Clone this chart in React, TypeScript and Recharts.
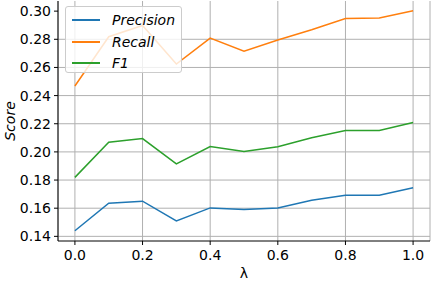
import { LineChart, Line, XAxis, YAxis, CartesianGrid } from "recharts";

const lambdas = [0, 0.1, 0.2, 0.3, 0.4, 0.5, 0.6, 0.7, 0.8, 0.9, 1.0];
const precision = [0.144, 0.1636, 0.165, 0.151, 0.1602, 0.159, 0.1602, 0.1657, 0.1692, 0.1692, 0.1745];
const recall = [0.2468, 0.2818, 0.2898, 0.2624, 0.2808, 0.2716, 0.2795, 0.2868, 0.2947, 0.2951, 0.3003];
const f1 = [0.1819, 0.2068, 0.2095, 0.1915, 0.2038, 0.2002, 0.2036, 0.2101, 0.2152, 0.2152, 0.2209];

const xTicks = [0, 0.2, 0.4, 0.6, 0.8, 1.0];
const yTicks = [0.14, 0.16, 0.18, 0.2, 0.22, 0.24, 0.26, 0.28, 0.3];
const gridValues = [0.14, 0.16, 0.18, 0.2, 0.22, 0.24, 0.26, 0.28];

const series = [
  { key: "precision", name: "Precision", color: "#1f77b4" },
  { key: "recall", name: "Recall", color: "#ff7f0e" },
  { key: "f1", name: "F1", color: "#2ca02c" },
];

const data = lambdas.map((l, i) => ({
  lambda: l,
  precision: precision[i],
  recall: recall[i],
  f1: f1[i],
}));

const FONT = "'DejaVu Sans', sans-serif";
const tickStyle = { fontSize: 14, fill: "#000", fontFamily: FONT };

export default function App() {
  return (
    <div style={{ position: "absolute", left: 0, top: 0, width: 432, height: 282, background: "#fff" }}>
      <LineChart width={432} height={282} data={data} margin={{ top: 1, right: 2, left: 0, bottom: 0 }}>
        <CartesianGrid stroke="#b0b0b0" strokeWidth={1} horizontalValues={gridValues} />
        <XAxis
          dataKey="lambda"
          type="number"
          domain={[-0.05, 1.05]}
          ticks={xTicks}
          tickFormatter={(v) => Number(v).toFixed(1)}
          height={41}
          tick={tickStyle}
          tickSize={4}
          tickMargin={5}
          stroke="#000"
          label={{ value: "λ", position: "insideBottom", offset: 4, style: { fontSize: 14, fill: "#000", fontFamily: FONT } }}
        />
        <XAxis xAxisId="top" orientation="top" dataKey="lambda" type="number" domain={[-0.05, 1.05]} height={0} tick={false} tickLine={false} stroke="#000" />
        <YAxis
          type="number"
          domain={[0.1367, 0.3072]}
          ticks={yTicks}
          tickFormatter={(v) => Number(v).toFixed(2)}
          width={58}
          tick={tickStyle}
          tickSize={4}
          tickMargin={3}
          stroke="#000"
          label={({ viewBox }: any) => (
            <text
              x={10}
              y={viewBox.y + viewBox.height / 2}
              transform={`rotate(-90, 10, ${viewBox.y + viewBox.height / 2})`}
              textAnchor="middle"
              dominantBaseline="central"
              style={{ fontSize: 14, fill: "#000", fontFamily: FONT, fontStyle: "italic" }}
            >
              Score
            </text>
          )}
        />
        <YAxis yAxisId="right" orientation="right" domain={[0.1367, 0.3072]} width={0} tick={false} tickLine={false} stroke="#000" />
        {series.map((s) => (
          <Line
            key={s.key}
            type="linear"
            dataKey={s.key}
            name={s.name}
            stroke={s.color}
            strokeWidth={1.5}
            dot={false}
            isAnimationActive={false}
          />
        ))}
      </LineChart>
      <div
        style={{
          position: "absolute",
          left: 65,
          top: 6,
          width: 115,
          height: 65,
          border: "1px solid #cccccc",
          borderRadius: 3,
          background: "rgba(255,255,255,0.8)",
          fontFamily: FONT,
          fontSize: 14,
          fontStyle: "italic",
        }}
      >
        {series.map((s, i) => (
          <div key={s.key} style={{ position: "absolute", left: 6, top: 3 + i * 21.5, height: 20, display: "flex", alignItems: "center" }}>
            <div style={{ width: 28, height: 2, background: s.color, marginRight: 12 }} />
            <span>{s.name}</span>
          </div>
        ))}
      </div>
    </div>
  );
}
